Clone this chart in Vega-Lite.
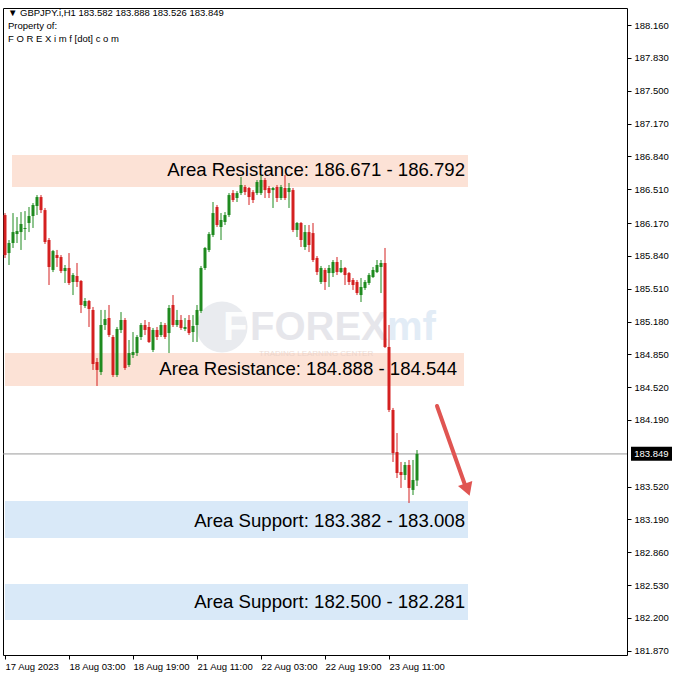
{
  "$schema": "https://vega.github.io/schema/vega-lite/v6.json",
  "width": 624,
  "height": 647,
  "autosize": "none",
  "padding": {"left": 3, "top": 8, "right": 51, "bottom": 23},
  "background": "#ffffff",
  "title": {
    "text": "▼ GBPJPY.i,H1  183.582 183.888 183.526 183.849",
    "subtitle": ["Property of:", "F O R E X i m f [dot] c o m"],
    "anchor": "start",
    "frame": "group",
    "orient": "top",
    "offset": -35,
    "dx": 5,
    "font": "Liberation Sans",
    "fontSize": 9.5,
    "fontWeight": "normal",
    "color": "#000000",
    "subtitleFont": "Liberation Sans",
    "subtitleFontSize": 9.5,
    "subtitleColor": "#000000",
    "subtitleLineHeight": 13,
    "subtitlePadding": 3
  },
  "config": {
    "view": {"stroke": "#000000", "strokeWidth": 1},
    "axis": {
      "labelFont": "Liberation Sans",
      "labelFontSize": 9.5,
      "labelColor": "#000000",
      "tickColor": "#000000",
      "domain": false,
      "grid": false,
      "title": null,
      "labelOverlap": false,
      "labelFlush": false
    }
  },
  "datasets": {
    "candles": [
      {"i":0,"o":186.250,"h":186.270,"l":185.818,"c":185.848},
      {"i":1,"o":185.868,"h":185.999,"l":185.748,"c":185.969},
      {"i":2,"o":185.969,"h":186.270,"l":185.919,"c":186.079},
      {"i":3,"o":186.059,"h":186.230,"l":185.969,"c":186.089},
      {"i":4,"o":186.079,"h":186.280,"l":185.899,"c":186.160},
      {"i":5,"o":186.110,"h":186.290,"l":185.999,"c":186.120},
      {"i":6,"o":186.170,"h":186.331,"l":186.079,"c":186.240},
      {"i":7,"o":186.240,"h":186.371,"l":186.120,"c":186.351},
      {"i":8,"o":186.341,"h":186.451,"l":186.250,"c":186.431},
      {"i":9,"o":186.431,"h":186.451,"l":186.270,"c":186.300},
      {"i":10,"o":186.300,"h":186.321,"l":185.959,"c":185.979},
      {"i":11,"o":185.999,"h":186.019,"l":185.547,"c":185.728},
      {"i":12,"o":185.698,"h":185.899,"l":185.677,"c":185.888},
      {"i":13,"o":185.848,"h":185.899,"l":185.728,"c":185.818},
      {"i":14,"o":185.828,"h":185.848,"l":185.667,"c":185.687},
      {"i":15,"o":185.687,"h":185.748,"l":185.567,"c":185.718},
      {"i":16,"o":185.718,"h":185.868,"l":185.547,"c":185.567},
      {"i":17,"o":185.577,"h":185.667,"l":185.446,"c":185.647},
      {"i":18,"o":185.637,"h":185.768,"l":185.527,"c":185.577},
      {"i":19,"o":185.587,"h":185.597,"l":185.265,"c":185.346},
      {"i":20,"o":185.336,"h":185.416,"l":185.316,"c":185.386},
      {"i":21,"o":185.386,"h":185.396,"l":185.125,"c":185.306},
      {"i":22,"o":185.296,"h":185.326,"l":184.693,"c":184.753},
      {"i":23,"o":184.773,"h":184.813,"l":184.532,"c":184.693},
      {"i":24,"o":184.672,"h":185.296,"l":184.642,"c":185.145},
      {"i":25,"o":185.145,"h":185.296,"l":185.095,"c":185.205},
      {"i":26,"o":185.215,"h":185.346,"l":185.024,"c":185.044},
      {"i":27,"o":185.024,"h":185.044,"l":184.622,"c":184.642},
      {"i":28,"o":184.642,"h":185.125,"l":184.622,"c":185.105},
      {"i":29,"o":185.095,"h":185.275,"l":185.064,"c":185.195},
      {"i":30,"o":185.195,"h":185.215,"l":184.693,"c":184.713},
      {"i":31,"o":184.743,"h":184.994,"l":184.723,"c":184.863},
      {"i":32,"o":184.843,"h":185.074,"l":184.813,"c":184.873},
      {"i":33,"o":184.863,"h":185.044,"l":184.833,"c":185.024},
      {"i":34,"o":185.024,"h":185.165,"l":184.994,"c":185.145},
      {"i":35,"o":185.145,"h":185.195,"l":185.044,"c":185.095},
      {"i":36,"o":185.125,"h":185.175,"l":184.964,"c":184.974},
      {"i":37,"o":184.894,"h":185.115,"l":184.873,"c":185.095},
      {"i":38,"o":185.095,"h":185.125,"l":184.994,"c":185.024},
      {"i":39,"o":185.044,"h":185.175,"l":185.024,"c":185.145},
      {"i":40,"o":185.145,"h":185.165,"l":185.004,"c":185.024},
      {"i":41,"o":185.064,"h":185.346,"l":184.863,"c":185.316},
      {"i":42,"o":185.346,"h":185.446,"l":185.125,"c":185.145},
      {"i":43,"o":185.145,"h":185.296,"l":185.125,"c":185.195},
      {"i":44,"o":185.195,"h":185.245,"l":185.095,"c":185.115},
      {"i":45,"o":185.105,"h":185.215,"l":185.084,"c":185.125},
      {"i":46,"o":185.195,"h":185.245,"l":185.044,"c":185.064},
      {"i":47,"o":185.074,"h":185.245,"l":184.974,"c":185.135},
      {"i":48,"o":185.145,"h":185.346,"l":184.974,"c":185.296},
      {"i":49,"o":185.285,"h":185.738,"l":185.265,"c":185.718},
      {"i":50,"o":185.718,"h":185.929,"l":185.698,"c":185.919},
      {"i":51,"o":185.899,"h":186.079,"l":185.878,"c":186.059},
      {"i":52,"o":186.049,"h":186.381,"l":186.029,"c":186.270},
      {"i":53,"o":186.331,"h":186.351,"l":186.130,"c":186.150},
      {"i":54,"o":186.130,"h":186.270,"l":185.999,"c":186.200},
      {"i":55,"o":186.180,"h":186.280,"l":186.150,"c":186.250},
      {"i":56,"o":186.250,"h":186.471,"l":186.230,"c":186.451},
      {"i":57,"o":186.471,"h":186.501,"l":186.381,"c":186.401},
      {"i":58,"o":186.421,"h":186.491,"l":186.381,"c":186.471},
      {"i":59,"o":186.471,"h":186.632,"l":186.451,"c":186.552},
      {"i":60,"o":186.532,"h":186.552,"l":186.451,"c":186.481},
      {"i":61,"o":186.522,"h":186.532,"l":186.351,"c":186.431},
      {"i":62,"o":186.481,"h":186.501,"l":186.371,"c":186.401},
      {"i":63,"o":186.471,"h":186.602,"l":186.451,"c":186.582},
      {"i":64,"o":186.471,"h":186.652,"l":186.451,"c":186.602},
      {"i":65,"o":186.602,"h":186.622,"l":186.421,"c":186.501},
      {"i":66,"o":186.522,"h":186.542,"l":186.421,"c":186.471},
      {"i":67,"o":186.501,"h":186.532,"l":186.321,"c":186.522},
      {"i":68,"o":186.532,"h":186.552,"l":186.381,"c":186.421},
      {"i":69,"o":186.421,"h":186.552,"l":186.401,"c":186.532},
      {"i":70,"o":186.522,"h":186.652,"l":186.401,"c":186.421},
      {"i":71,"o":186.481,"h":186.572,"l":186.321,"c":186.522},
      {"i":72,"o":186.501,"h":186.522,"l":186.079,"c":186.100},
      {"i":73,"o":186.100,"h":186.180,"l":186.029,"c":186.170},
      {"i":74,"o":186.170,"h":186.180,"l":185.929,"c":185.999},
      {"i":75,"o":185.929,"h":186.150,"l":185.899,"c":186.079},
      {"i":76,"o":186.079,"h":186.150,"l":185.878,"c":185.949},
      {"i":77,"o":186.069,"h":186.170,"l":185.778,"c":185.798},
      {"i":78,"o":185.818,"h":185.838,"l":185.647,"c":185.677},
      {"i":79,"o":185.577,"h":185.738,"l":185.557,"c":185.718},
      {"i":80,"o":185.698,"h":185.718,"l":185.497,"c":185.577},
      {"i":81,"o":185.667,"h":185.748,"l":185.527,"c":185.718},
      {"i":82,"o":185.667,"h":185.798,"l":185.627,"c":185.778},
      {"i":83,"o":185.778,"h":185.828,"l":185.647,"c":185.677},
      {"i":84,"o":185.677,"h":185.798,"l":185.667,"c":185.718},
      {"i":85,"o":185.718,"h":185.728,"l":185.547,"c":185.647},
      {"i":86,"o":185.667,"h":185.677,"l":185.547,"c":185.577},
      {"i":87,"o":185.597,"h":185.617,"l":185.497,"c":185.547},
      {"i":88,"o":185.577,"h":185.597,"l":185.446,"c":185.466},
      {"i":89,"o":185.446,"h":185.617,"l":185.376,"c":185.527},
      {"i":90,"o":185.517,"h":185.597,"l":185.497,"c":185.577},
      {"i":91,"o":185.567,"h":185.667,"l":185.547,"c":185.647},
      {"i":92,"o":185.627,"h":185.728,"l":185.617,"c":185.698},
      {"i":93,"o":185.677,"h":185.798,"l":185.667,"c":185.748},
      {"i":94,"o":185.728,"h":185.798,"l":185.466,"c":185.768},
      {"i":95,"o":185.768,"h":185.919,"l":184.914,"c":184.924},
      {"i":96,"o":184.924,"h":185.145,"l":184.270,"c":184.291},
      {"i":97,"o":184.291,"h":184.311,"l":183.768,"c":183.858},
      {"i":98,"o":183.868,"h":184.059,"l":183.607,"c":183.657},
      {"i":99,"o":183.667,"h":183.768,"l":183.507,"c":183.637},
      {"i":100,"o":183.637,"h":183.768,"l":183.587,"c":183.738},
      {"i":101,"o":183.738,"h":183.788,"l":183.356,"c":183.507},
      {"i":102,"o":183.487,"h":183.788,"l":183.436,"c":183.587},
      {"i":103,"o":183.582,"h":183.888,"l":183.526,"c":183.849}
    ],
    "zones": [
      {"kind":"resistance","i":1.75,"i2":115.75,"lo":186.532,"hi":186.853,"label":"Area Resistance: 186.671 - 186.792","ti":115,"tp":186.702},
      {"kind":"resistance","i":0,"i2":114.75,"lo":184.532,"hi":184.863,"label":"Area Resistance: 184.888 - 184.544","ti":113,"tp":184.703},
      {"kind":"support","i":0,"i2":115.75,"lo":183.004,"hi":183.376,"label":"Area Support: 183.382 - 183.008","ti":115,"tp":183.175},
      {"kind":"support","i":0,"i2":115.75,"lo":182.180,"hi":182.542,"label":"Area Support: 182.500 - 182.281","ti":115,"tp":182.361}
    ],
    "arrow": [
      {"i":108,"p":184.331},
      {"i":115,"p":183.537}
    ]
  },
  "layer": [
    {
      "data": {"name": "zones"},
      "mark": {"type": "rect"},
      "encoding": {
        "x": {"field": "i", "type": "quantitative", "scale": {"domain": [-0.5, 155.5], "nice": false, "zero": false, "padding": 0},
          "axis": {"orient": "bottom", "values": [0, 16, 32, 48, 64, 80, 96], "tickCount": 50, "labelExpr": "['17 Aug 2023','18 Aug 03:00','18 Aug 19:00','21 Aug 11:00','22 Aug 03:00','22 Aug 19:00','23 Aug 11:00'][round(datum.value/16)]", "labelAlign": "left", "labelBaseline": "top", "labelPadding": 2, "tickSize": 4, "labelOverlap": false, "labelFlush": false}},
        "x2": {"field": "i2"},
        "y": {"field": "lo", "type": "quantitative", "scale": {"domain": [181.828, 188.331], "nice": false, "zero": false, "padding": 0},
          "axis": {"orient": "right", "values": [188.16, 187.83, 187.5, 187.17, 186.84, 186.51, 186.17, 185.84, 185.51, 185.18, 184.85, 184.52, 184.19, 183.52, 183.19, 182.86, 182.53, 182.2, 181.87], "tickCount": 50, "format": ".3f", "tickSize": 4, "labelPadding": 3, "labelOverlap": false, "labelFlush": false}},
        "y2": {"field": "hi"},
        "color": {"condition": {"test": "datum.kind === 'resistance'", "value": "#fce2d6"}, "value": "#d9e9f8"}
      }
    },
    {
      "data": {"values": [{"i": 54.25, "p": 185.125}]},
      "mark": {"type": "point", "shape": "circle", "filled": true, "size": 2600, "color": "#c9ccd8", "opacity": 0.4},
      "encoding": {
        "x": {"field": "i", "type": "quantitative", "scale": {"domain": [-0.5, 155.5], "nice": false, "zero": false, "padding": 0}},
        "y": {"field": "p", "type": "quantitative", "scale": {"domain": [181.828, 188.331], "nice": false, "zero": false, "padding": 0}}
      }
    },
    {
      "data": {"values": [
        {"i": 54.5, "p": 185.115, "t": "F", "g": "logo"},
        {"i": 61.25, "p": 185.115, "t": "FOREX", "g": "forex"},
        {"i": 95.5, "p": 185.115, "t": "mf", "g": "mf"}
      ]},
      "mark": {"type": "text", "align": "left", "baseline": "middle", "font": "Liberation Sans", "fontWeight": "bold", "fontSize": 40},
      "encoding": {
        "x": {"field": "i", "type": "quantitative", "scale": {"domain": [-0.5, 155.5], "nice": false, "zero": false, "padding": 0}},
        "y": {"field": "p", "type": "quantitative", "scale": {"domain": [181.828, 188.331], "nice": false, "zero": false, "padding": 0}},
        "text": {"field": "t"},
        "color": {"condition": [{"test": "datum.g === 'logo'", "value": "#ffffff"}, {"test": "datum.g === 'mf'", "value": "#cfe0f1"}], "value": "#d6d7de"},
        "opacity": {"condition": {"test": "datum.g === 'logo'", "value": 0.9}, "value": 0.6}
      }
    },
    {
      "data": {"values": [{"i": 63.5, "p": 184.855, "t": "TRADING  LEARNING  CENTER"}]},
      "mark": {"type": "text", "align": "left", "baseline": "middle", "font": "Liberation Sans", "fontSize": 8, "color": "#e6cfc6", "opacity": 0.7},
      "encoding": {
        "x": {"field": "i", "type": "quantitative", "scale": {"domain": [-0.5, 155.5], "nice": false, "zero": false, "padding": 0}},
        "y": {"field": "p", "type": "quantitative", "scale": {"domain": [181.828, 188.331], "nice": false, "zero": false, "padding": 0}},
        "text": {"field": "t"}
      }
    },
    {
      "data": {"name": "zones"},
      "mark": {"type": "text", "align": "right", "baseline": "middle", "font": "Liberation Sans", "fontSize": 18.6, "color": "#000000"},
      "encoding": {
        "x": {"field": "ti", "type": "quantitative", "scale": {"domain": [-0.5, 155.5], "nice": false, "zero": false, "padding": 0}},
        "y": {"field": "tp", "type": "quantitative", "scale": {"domain": [181.828, 188.331], "nice": false, "zero": false, "padding": 0}},
        "text": {"field": "label"}
      }
    },
    {
      "data": {"values": [{"p": 183.849}]},
      "mark": {"type": "rule", "color": "#9a9a9a", "strokeWidth": 1},
      "encoding": {
        "y": {"field": "p", "type": "quantitative", "scale": {"domain": [181.828, 188.331], "nice": false, "zero": false, "padding": 0}}
      }
    },
    {
      "data": {"name": "candles"},
      "mark": {"type": "rule", "strokeWidth": 1},
      "encoding": {
        "x": {"field": "i", "type": "quantitative", "scale": {"domain": [-0.5, 155.5], "nice": false, "zero": false, "padding": 0}},
        "y": {"field": "l", "type": "quantitative", "scale": {"domain": [181.828, 188.331], "nice": false, "zero": false, "padding": 0}},
        "y2": {"field": "h"},
        "color": {"condition": {"test": "datum.c >= datum.o", "value": "#1f8a1f"}, "value": "#d42020"}
      }
    },
    {
      "data": {"name": "candles"},
      "mark": {"type": "bar", "width": 3},
      "encoding": {
        "x": {"field": "i", "type": "quantitative", "scale": {"domain": [-0.5, 155.5], "nice": false, "zero": false, "padding": 0}},
        "y": {"field": "o", "type": "quantitative", "scale": {"domain": [181.828, 188.331], "nice": false, "zero": false, "padding": 0}},
        "y2": {"field": "c"},
        "color": {"condition": {"test": "datum.c >= datum.o", "value": "#1f8a1f"}, "value": "#d42020"}
      }
    },
    {
      "data": {"name": "arrow"},
      "mark": {"type": "line", "color": "#e05552", "strokeWidth": 4, "strokeCap": "round"},
      "encoding": {
        "x": {"field": "i", "type": "quantitative", "scale": {"domain": [-0.5, 155.5], "nice": false, "zero": false, "padding": 0}},
        "y": {"field": "p", "type": "quantitative", "scale": {"domain": [181.828, 188.331], "nice": false, "zero": false, "padding": 0}}
      }
    },
    {
      "data": {"values": [{"i": 115.6, "p": 183.49}]},
      "mark": {"type": "point", "shape": "triangle-up", "filled": true, "size": 230, "color": "#e05552", "opacity": 1, "angle": 160},
      "encoding": {
        "x": {"field": "i", "type": "quantitative", "scale": {"domain": [-0.5, 155.5], "nice": false, "zero": false, "padding": 0}},
        "y": {"field": "p", "type": "quantitative", "scale": {"domain": [181.828, 188.331], "nice": false, "zero": false, "padding": 0}}
      }
    },
    {
      "data": {"values": [{"i": 156.5, "i2": 166.75, "lo": 183.78, "hi": 183.92}]},
      "mark": {"type": "rect", "color": "#000000", "clip": false},
      "encoding": {
        "x": {"field": "i", "type": "quantitative", "scale": {"domain": [-0.5, 155.5], "nice": false, "zero": false, "padding": 0}},
        "x2": {"field": "i2"},
        "y": {"field": "lo", "type": "quantitative", "scale": {"domain": [181.828, 188.331], "nice": false, "zero": false, "padding": 0}},
        "y2": {"field": "hi"}
      }
    },
    {
      "data": {"values": [{"i": 161.6, "p": 183.849, "t": "183.849"}]},
      "mark": {"type": "text", "align": "center", "baseline": "middle", "font": "Liberation Sans", "fontSize": 9.5, "color": "#ffffff", "clip": false},
      "encoding": {
        "x": {"field": "i", "type": "quantitative", "scale": {"domain": [-0.5, 155.5], "nice": false, "zero": false, "padding": 0}},
        "y": {"field": "p", "type": "quantitative", "scale": {"domain": [181.828, 188.331], "nice": false, "zero": false, "padding": 0}},
        "text": {"field": "t"}
      }
    }
  ]
}
